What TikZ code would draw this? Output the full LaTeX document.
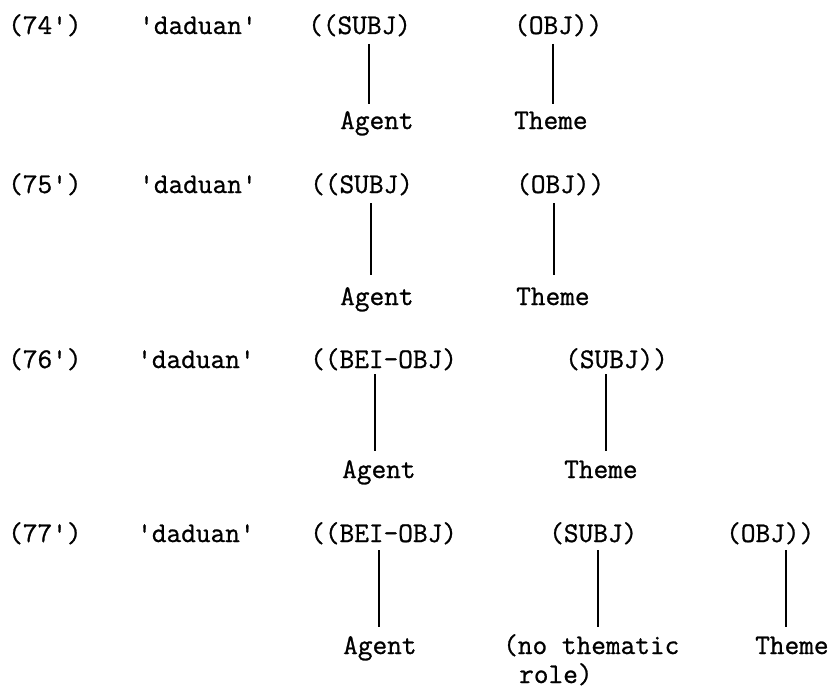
\documentclass[tikz,border=0pt]{standalone}
\usepackage{fontspec}
\newfontfamily\tw{Latin Modern Mono}[FakeBold=0.9]
\begin{document}
\begin{tikzpicture}[x=1pt,y=-1pt,
  txt/.style={anchor=base west,inner sep=0pt,font=\tw\fontsize{28.5}{30}\selectfont},
  link/.style={line width=2pt}]
\useasboundingbox (0,0) rectangle (840,690);
% row 74'
\node[txt] (n1) at (8,34) {(74')};
\node[txt] (d1) at (139,34) {'daduan'};
\node[txt] (s1) at (308,34) {((SUBJ)};
\node[txt] (o1) at (514,34) {(OBJ))};
\node[txt] (a1) at (340,129) {Agent};
\node[txt] (t1) at (514,129) {Theme};
\coordinate (x11) at (369,0);
\coordinate (x12) at (553,0);
\coordinate (y1a) at (0,44);
\coordinate (y1b) at (0,104);
\draw[link] (x11 |- y1a) -- (x11 |- y1b);
\draw[link] (x12 |- y1a) -- (x12 |- y1b);
% row 75'
\node[txt] (n2) at (8,193) {(75')};
\node[txt] (d2) at (139,193) {'daduan'};
\node[txt] (s2) at (310,193) {((SUBJ)};
\node[txt] (o2) at (516,193) {(OBJ))};
\node[txt] (a2) at (340,305) {Agent};
\node[txt] (t2) at (516,305) {Theme};
\coordinate (x21) at (371,0);
\coordinate (x22) at (554,0);
\coordinate (y2a) at (0,203);
\coordinate (y2b) at (0,275);
\draw[link] (x21 |- y2a) -- (x21 |- y2b);
\draw[link] (x22 |- y2a) -- (x22 |- y2b);
% row 76'
\node[txt] (n3) at (8,368) {(76')};
\node[txt] (d3) at (137,368) {'daduan'};
\node[txt] (s3) at (310,368) {((BEI-OBJ)};
\node[txt] (o3) at (565,368) {(SUBJ))};
\node[txt] (a3) at (342,478) {Agent};
\node[txt] (t3) at (564,478) {Theme};
\coordinate (x31) at (375,0);
\coordinate (x32) at (606,0);
\coordinate (y3a) at (0,374);
\coordinate (y3b) at (0,451);
\draw[link] (x31 |- y3a) -- (x31 |- y3b);
\draw[link] (x32 |- y3a) -- (x32 |- y3b);
% row 77'
\node[txt] (n4) at (8,542) {(77')};
\node[txt] (d4) at (137,542) {'daduan'};
\node[txt] (s4) at (310,542) {((BEI-OBJ)};
\node[txt] (o4) at (549,542) {(SUBJ)};
\node[txt] (p4) at (726,542) {(OBJ))};
\node[txt] (a4) at (343,654) {Agent};
\node[txt] (r4) at (503,654) {(no thematic};
\node[txt] (r4b) at (519,683) {role)};
\node[txt] (t4) at (755,654) {Theme};
\coordinate (x41) at (379,0);
\coordinate (x42) at (598,0);
\coordinate (x43) at (786,0);
\coordinate (y4a) at (0,550);
\coordinate (y4b) at (0,627);
\draw[link] (x41 |- y4a) -- (x41 |- y4b);
\draw[link] (x42 |- y4a) -- (x42 |- y4b);
\draw[link] (x43 |- y4a) -- (x43 |- y4b);
\end{tikzpicture}
\end{document}
